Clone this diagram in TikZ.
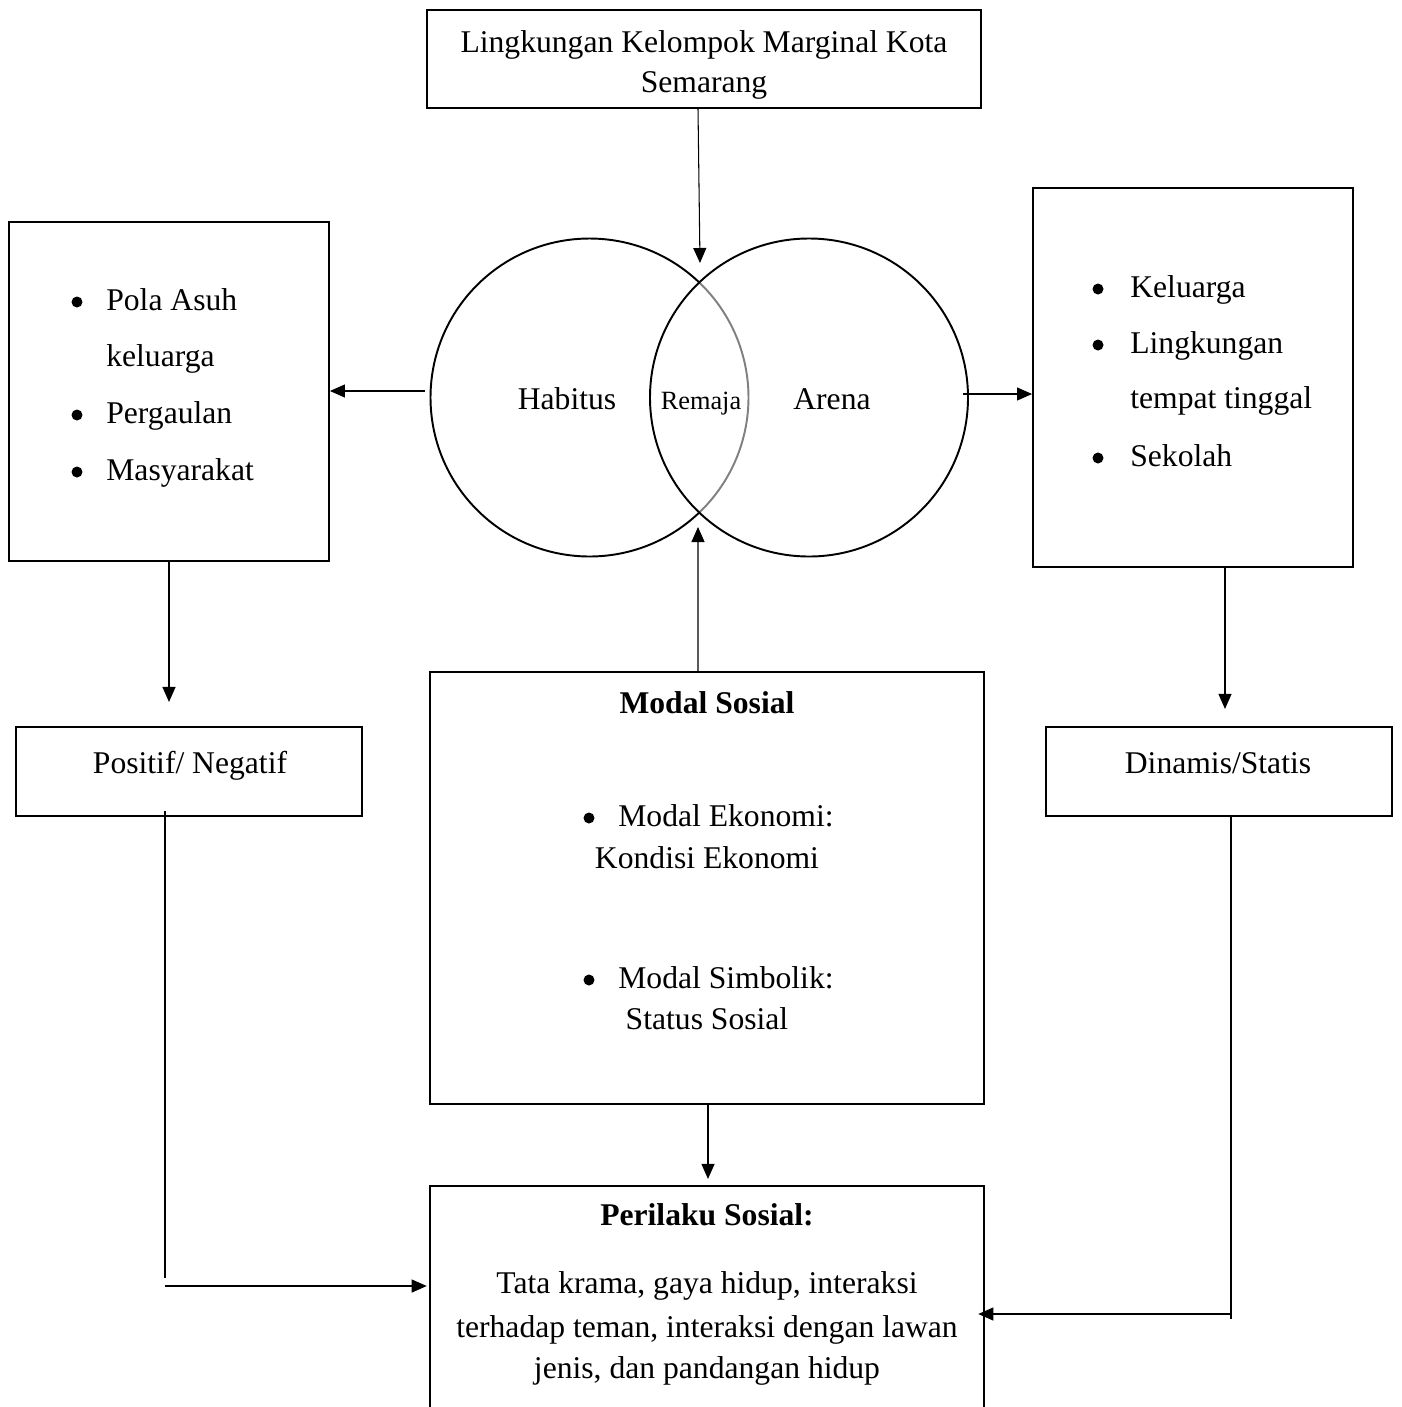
\documentclass[tikz,border=0pt]{standalone}
\usepackage{fontspec}
\setmainfont{Liberation Serif}
\usetikzlibrary{arrows.meta,calc}
\begin{document}
\begin{tikzpicture}[x=0.02cm,y=-0.02cm,
  box/.style={draw, line width=1.1pt, inner sep=0, rectangle},
  conn/.style={line width=0.6pt},
  arr/.style={conn, -{Triangle[length=0.3cm,width=0.26cm]}},
  txt/.style={inner sep=0, font=\fontsize{18}{22}\selectfont},
  small/.style={inner sep=0, font=\fontsize{15}{18}\selectfont},
  dot/.style={circle, fill=black, inner sep=0, minimum size=0.22cm}
]
\useasboundingbox[fill=white] (0,0) rectangle (1402,1407);

% boxes
\node[box, minimum width=11.08cm, minimum height=1.96cm] (top) at (704,59) {};
\node[box, minimum width=6.4cm, minimum height=6.78cm] (lbox) at (169,391.5) {};
\node[box, minimum width=6.4cm, minimum height=7.58cm] (rbox) at (1193,377.5) {};
\node[box, minimum width=6.92cm, minimum height=1.78cm] (pos) at (189,771.5) {};
\node[box, minimum width=6.92cm, minimum height=1.78cm] (din) at (1219,771.5) {};
\node[box, minimum width=11.08cm, minimum height=8.64cm] (modal) at (707,888) {};
\node[inner sep=0, minimum width=11.08cm, minimum height=4.42cm] (peri) at (707,1296.5) {};
\draw[line width=1.1pt] (peri.south west) -- (peri.north west) -- (peri.north east) -- (peri.south east);

% top text
\node[txt, anchor=base] (t1) at (704,52) {Lingkungan Kelompok Marginal Kota};
\node[txt, anchor=base] (t2) at (704,92) {Semarang};

% circles
\node[circle, inner sep=0, minimum size=6.36cm] (hab) at (589.5,397.5) {};
\node[circle, inner sep=0, minimum size=6.36cm] (are) at (809,397.5) {};
\draw[line width=1.1pt, gray] (hab.center) ++(-46.4:159) arc[start angle=-46.4, end angle=46.4, radius=159];
\draw[line width=1.1pt] (hab.center) ++(46.4:159) arc[start angle=46.4, end angle=313.6, radius=159];
\draw[line width=1.1pt] (are.center) circle[radius=159];
\node[txt, anchor=base] (thab) at (567,409) {Habitus};
\node[small, anchor=base] (trem) at (701,409) {Remaja};
\node[txt, anchor=base] (tare) at (832,409) {Arena};

% left list
\node[dot] (lb1) at (77,302) {};
\node[txt, anchor=base west] (lt1) at (106,310) {Pola Asuh};
\node[txt, anchor=base west] (lt2) at (106,366) {keluarga};
\node[dot] (lb2) at (77,415) {};
\node[txt, anchor=base west] (lt3) at (106,423) {Pergaulan};
\node[dot] (lb3) at (77,472) {};
\node[txt, anchor=base west] (lt4) at (106,480) {Masyarakat};

% right list
\node[dot] (rb1) at (1098,289) {};
\node[txt, anchor=base west] (rt1) at (1130,297) {Keluarga};
\node[dot] (rb2) at (1098,345) {};
\node[txt, anchor=base west] (rt2) at (1130,353) {Lingkungan};
\node[txt, anchor=base west] (rt3) at (1130,408) {tempat tinggal};
\node[dot] (rb3) at (1098,458) {};
\node[txt, anchor=base west] (rt4) at (1130,466) {Sekolah};

% small boxes text
\node[txt, anchor=base] (tpos) at (190,773) {Positif/ Negatif};
\node[txt, anchor=base] (tdin) at (1218,773) {Dinamis/Statis};

% modal text
\node[txt, anchor=base] (tm0) at (707,713) {\textbf{Modal Sosial}};
\node[dot] (mb1) at (589,818) {};
\node[txt, anchor=base west] (tm1) at (618,826) {Modal Ekonomi:};
\node[txt, anchor=base] (tm2) at (707,868) {Kondisi Ekonomi};
\node[dot] (mb2) at (589,980) {};
\node[txt, anchor=base west] (tm3) at (618,988) {Modal Simbolik:};
\node[txt, anchor=base] (tm4) at (707,1029) {Status Sosial};

% perilaku text
\node[txt, anchor=base] (tp0) at (707,1225) {\textbf{Perilaku Sosial:}};
\node[txt, anchor=base] (tp1) at (707,1293) {Tata krama, gaya hidup, interaksi};
\node[txt, anchor=base] (tp2) at (707,1337) {terhadap teman, interaksi dengan lawan};
\node[txt, anchor=base] (tp3) at (707,1378) {jenis, dan pandangan hidup};

% connectors
\coordinate (vt) at (700,263);
\draw[arr] ([xshift=-0.12cm]top.south) -- (vt);
\coordinate (h1) at (425,391);
\draw[arr] (h1) -- (h1 -| lbox.east);
\coordinate (a1) at (963,394);
\draw[arr] (a1) -- (a1 -| rbox.west);
\draw[arr] (lbox.south) -- ++(0,140);
\draw[arr] ([xshift=0.64cm]rbox.south) -- ++(0,141);
\coordinate (vb) at (698,527);
\draw[arr] ([xshift=-0.18cm]modal.north) -- (vb);
\draw[arr] ([xshift=0.02cm]modal.south) -- ++(0,74);
\draw[conn] ([xshift=-0.48cm,yshift=0.12cm]pos.south) -- ++(0,467);
\coordinate (pl) at (165,1286);
\draw[arr] (pl) -- ([xshift=-0.06cm]pl -| peri.west);
\coordinate (pr) at (1231,1314);
\draw[conn] ([xshift=0.24cm]din.south) -- ++(0,502);
\draw[arr] (pr) -- ([xshift=-0.12cm]pr -| peri.east);
\end{tikzpicture}
\end{document}
